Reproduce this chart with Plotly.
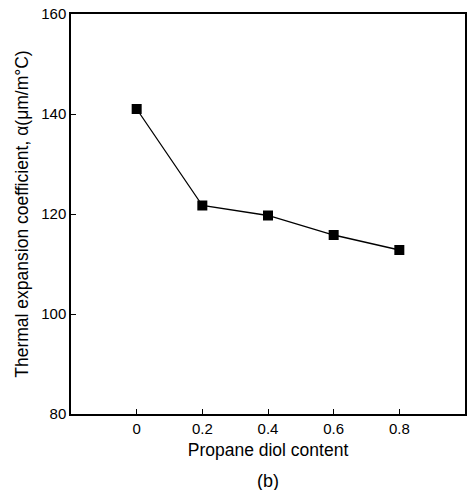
import plotly.graph_objects as go

propane_diol = [0, 0.2, 0.4, 0.6, 0.8]
alpha = [141.0, 121.7, 119.7, 115.8, 112.8]
x_tick_vals = [0, 0.2, 0.4, 0.6, 0.8]
x_tick_text = ["0", "0.2", "0.4", "0.6", "0.8"]
y_tick_vals = [80, 100, 120, 140, 160]

fig = go.Figure()
fig.add_trace(go.Scatter(
    x=propane_diol, y=alpha, mode="lines+markers",
    line=dict(color="black", width=1.3),
    marker=dict(symbol="square", size=10, color="black"),
    showlegend=False,
))

font_family = "Liberation Sans, Arial, sans-serif"
fig.update_layout(
    width=470, height=490,
    margin=dict(l=71, r=3, t=14, b=76),
    paper_bgcolor="white", plot_bgcolor="white",
    font=dict(family=font_family, color="black", size=15),
    xaxis=dict(
        range=[-0.2, 1.0], tickvals=x_tick_vals, ticktext=x_tick_text,
        ticks="inside", ticklen=5, tickcolor="black", tickwidth=1,
        showline=True, linecolor="black", linewidth=1.5, mirror=True,
        showgrid=False, zeroline=False,
        tickfont=dict(size=15),
        title=dict(text="Propane diol content", font=dict(size=17.5), standoff=8),
    ),
    yaxis=dict(
        range=[80, 160], tickvals=y_tick_vals,
        ticks="inside", ticklen=5, tickcolor="black", tickwidth=1,
        showline=True, linecolor="black", linewidth=1.5, mirror=True,
        showgrid=False, zeroline=False,
        tickfont=dict(size=15),
        title=dict(text="Thermal expansion coefficient, α(μm/m°C)", font=dict(size=17.5), standoff=8),
    ),
    annotations=[dict(
        text="(b)", xref="paper", yref="paper", x=0.5, y=-0.168,
        xanchor="center", yanchor="middle", showarrow=False,
        font=dict(size=18, family=font_family),
    )],
)

fig.write_html("out.html")
